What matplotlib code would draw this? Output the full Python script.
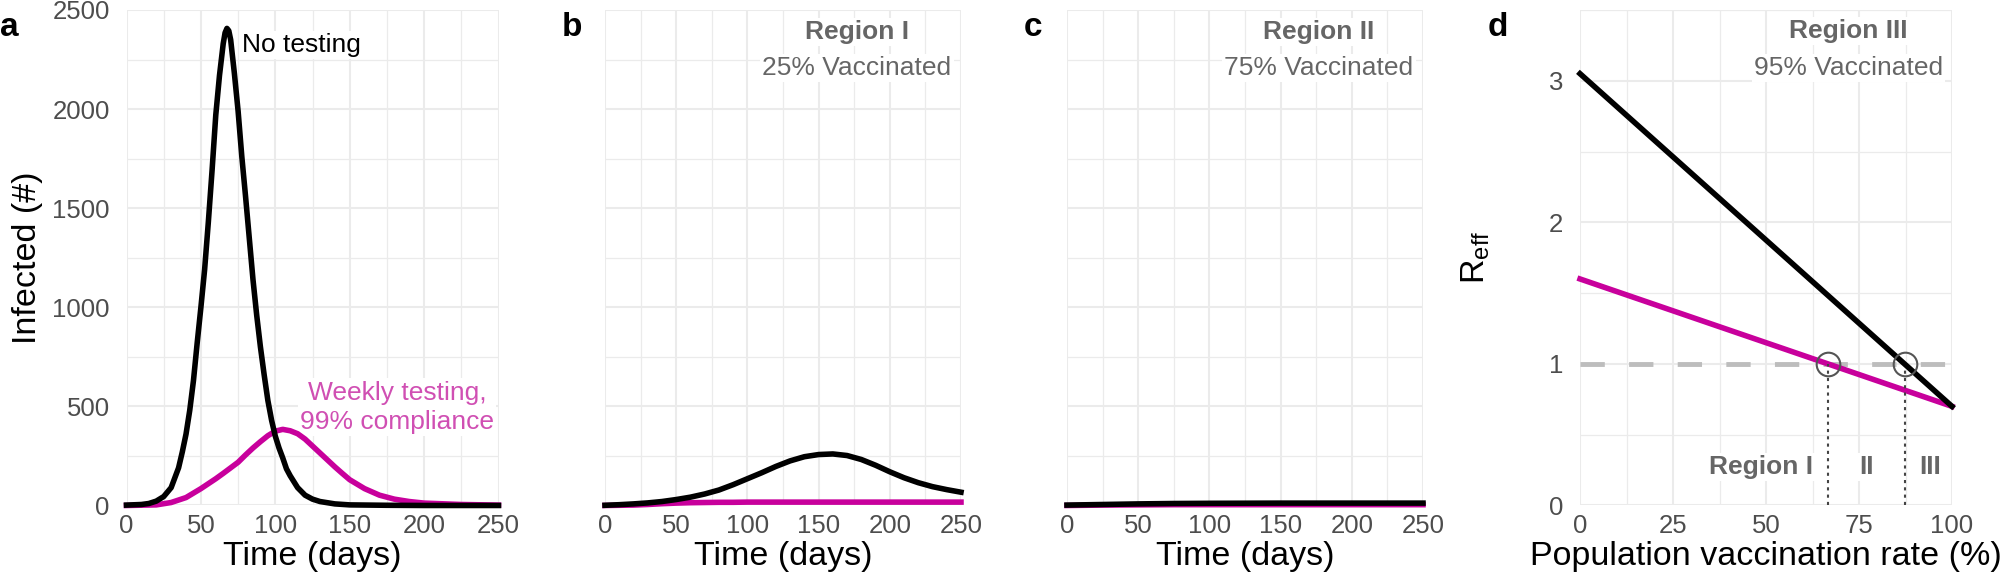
import matplotlib
matplotlib.use('Agg')
import matplotlib.pyplot as plt
from matplotlib.ticker import MultipleLocator
import numpy as np

plt.rcParams['font.family'] = ['Liberation Sans', 'DejaVu Sans']
plt.rcParams['mathtext.default'] = 'regular'

MAGENTA = '#C8009C'
MAGENTA_TXT = '#D04FB3'
GREY_TXT = '#666666'
TICK_GREY = '#4D4D4D'
GRID = '#EBEBEB'

# panel a: no testing vs weekly testing
days_a_none = [0, 10, 15, 20, 25, 30, 35, 37.5, 40, 42.5, 45, 47.5, 50, 52.5, 55, 57.5,
               60, 62.5, 65, 66.25, 67.5, 68.75, 70, 72.5, 75, 77.5, 80, 82.5, 85, 87.5,
               90, 92.5, 95, 97.5, 100, 102.5, 105, 107.5, 110, 115, 120, 125, 130, 140,
               150, 175, 200, 250]
inf_a_none = [2, 5, 10, 22, 45, 90, 190, 270, 360, 480, 630, 820, 1000, 1190, 1430, 1690,
              1970, 2170, 2330, 2385, 2407, 2395, 2350, 2180, 1990, 1760, 1560, 1350, 1140, 960,
              800, 660, 530, 430, 350, 290, 240, 185, 150, 90, 52, 32, 20, 8,
              3, 1, 0, 0]
days_a_test = [0, 20, 30, 40, 50, 60, 65, 70, 75, 80, 85, 90, 95, 100, 105, 110, 115, 120,
               125, 130, 135, 140, 145, 150, 160, 170, 180, 190, 200, 225, 250]
inf_a_test = [0, 3, 15, 40, 85, 135, 162, 190, 218, 255, 290, 322, 352, 375, 384, 377, 362, 335,
              300, 265, 230, 195, 162, 130, 85, 52, 32, 20, 12, 5, 2]

# panel b: region I, 25% vaccinated
days_b = [0, 10, 20, 30, 40, 50, 60, 70, 80, 90, 100, 110, 120, 130, 140, 150, 160,
          170, 180, 190, 200, 210, 220, 230, 240, 250]
inf_b_none = [1, 4, 8, 13, 20, 30, 42, 58, 78, 105, 135, 165, 197, 225, 246, 257, 260,
              252, 232, 203, 170, 140, 115, 95, 80, 67]
inf_b_test = [0, 1, 2, 5, 9, 12, 14, 15, 16, 16, 17, 17, 17, 17, 17, 17, 17,
              17, 17, 17, 17, 17, 17, 17, 17, 17]

# panel c: region II, 75% vaccinated
days_c = [0, 25, 50, 75, 100, 150, 200, 250]
inf_c_none = [2, 5, 8, 10, 11, 12, 12, 12]
inf_c_test = [0, 2, 3, 4, 4, 4, 4, 4]

# panel d: effective R vs vaccination rate
vacc_rate = [0, 100]
reff_none = [3.05, 0.70]
reff_test = [1.60, 0.70]
threshold = 1.0

fig = plt.figure(figsize=(20, 5.86), dpi=100)
bottom, height = 0.1374, 0.8456
ax_a = fig.add_axes([0.06325, bottom, 0.186, height])
ax_b = fig.add_axes([0.3025, bottom, 0.178, height])
ax_c = fig.add_axes([0.5335, bottom, 0.178, height])
ax_d = fig.add_axes([0.79, bottom, 0.186, height])


def style(ax, xmaj, xmin, ymaj, ymin):
    ax.xaxis.set_major_locator(MultipleLocator(xmaj))
    ax.xaxis.set_minor_locator(MultipleLocator(xmin))
    ax.yaxis.set_major_locator(MultipleLocator(ymaj))
    ax.yaxis.set_minor_locator(MultipleLocator(ymin))
    ax.grid(which='major', color=GRID, lw=1.5, zorder=0)
    ax.grid(which='minor', color=GRID, lw=0.9, zorder=0)
    ax.set_axisbelow(True)
    for s in ax.spines.values():
        s.set_visible(False)
    ax.tick_params(which='both', length=0, labelsize=18.5, labelcolor=TICK_GREY)
    ax.tick_params(axis='x', pad=6)
    ax.tick_params(axis='y', pad=12)


for ax in (ax_a, ax_b, ax_c):
    style(ax, 50, 25, 500, 250)
    ax.set_xlim(0, 250)
    ax.set_ylim(0, 2500)
    ax.set_xlabel('Time (days)', fontsize=24.5, labelpad=2)

ax_a.plot(days_a_test, inf_a_test, color=MAGENTA, lw=4, clip_on=False, zorder=3)
ax_a.plot(days_a_none, inf_a_none, color='black', lw=4, clip_on=False, zorder=4)
ax_b.plot(days_b, inf_b_test, color=MAGENTA, lw=4, clip_on=False, zorder=3)
ax_b.plot(days_b, inf_b_none, color='black', lw=4, clip_on=False, zorder=4)
ax_c.plot(days_c, inf_c_test, color=MAGENTA, lw=4, clip_on=False, zorder=3)
ax_c.plot(days_c, inf_c_none, color='black', lw=4, clip_on=False, zorder=4)

ax_a.set_ylabel('Infected (#)', fontsize=24.5)
ax_a.yaxis.set_label_coords(-0.225, 0.5)
ax_b.tick_params(axis='y', labelleft=False)
ax_c.tick_params(axis='y', labelleft=False)

box = dict(facecolor='white', edgecolor='none', pad=1.5)
ax_a.text(77.6, 2323, 'No testing', fontsize=19, ha='left', va='center', bbox=box, zorder=5)
ax_a.text(182, 495, 'Weekly testing,\n99% compliance', fontsize=19, ha='center',
          va='center', color=MAGENTA_TXT, linespacing=1.3, bbox=box, zorder=2.5)

for ax, reg, pct, ys in [(ax_b, 'Region I', '25% Vaccinated', (2390, 2206)),
                         (ax_c, 'Region II', '75% Vaccinated', (2390, 2206)),
                         (ax_d, 'Region III', '95% Vaccinated', (3.35, 3.09))]:
    xc = 177 if ax is not ax_d else 72.1
    ax.text(xc, ys[0], reg, fontsize=19, fontweight='bold', color=GREY_TXT,
            ha='center', va='center', bbox=box, zorder=5)
    ax.text(xc, ys[1], pct, fontsize=19, color=GREY_TXT,
            ha='center', va='center', bbox=box, zorder=5)

# panel d
style(ax_d, 25, 12.5, 1, 0.5)
ax_d.set_xlim(0, 100)
ax_d.set_ylim(0, 3.5)
ax_d.set_xlabel('Population vaccination rate (%)', fontsize=24.5, labelpad=2)
ax_d.set_ylabel(r'$R_{eff}$', fontsize=24.5)
ax_d.yaxis.set_label_coords(-0.237, 0.5)

ax_d.plot([0, 100], [threshold, threshold], color='#BDBDBD', lw=3.5,
          dashes=(5, 5), zorder=2)
ax_d.plot(vacc_rate, reff_test, color=MAGENTA, lw=4, clip_on=False, zorder=3)
ax_d.plot(vacc_rate, reff_none, color='black', lw=4, clip_on=False, zorder=4)

for r in (reff_test, reff_none):
    xi = np.interp(threshold, r[::-1], vacc_rate[::-1])
    ax_d.plot([xi, xi], [0, threshold], color='#444444', lw=1.5, ls=(0, (1.5, 2)), zorder=3)
    ax_d.plot(xi, threshold, 'o', ms=17, mfc='none', mec='#555555', mew=1.5, zorder=6)

ax_d.text(62.7, 0.27, 'Region I', fontsize=19, fontweight='bold', color=GREY_TXT,
          ha='right', va='center', bbox=box, zorder=5)
ax_d.text(77, 0.27, 'II', fontsize=19, fontweight='bold', color=GREY_TXT,
          ha='center', va='center', bbox=box, zorder=5)
ax_d.text(94, 0.27, 'III', fontsize=19, fontweight='bold', color=GREY_TXT,
          ha='center', va='center', bbox=box, zorder=5)

# panel letters
for x, lab in [(0.0, 'a'), (562 / 2000, 'b'), (1024 / 2000, 'c'), (1488 / 2000, 'd')]:
    fig.text(x, 0.9394, lab, fontsize=24, fontweight='bold', ha='left', va='baseline')

fig.savefig('out.png', dpi=100)
